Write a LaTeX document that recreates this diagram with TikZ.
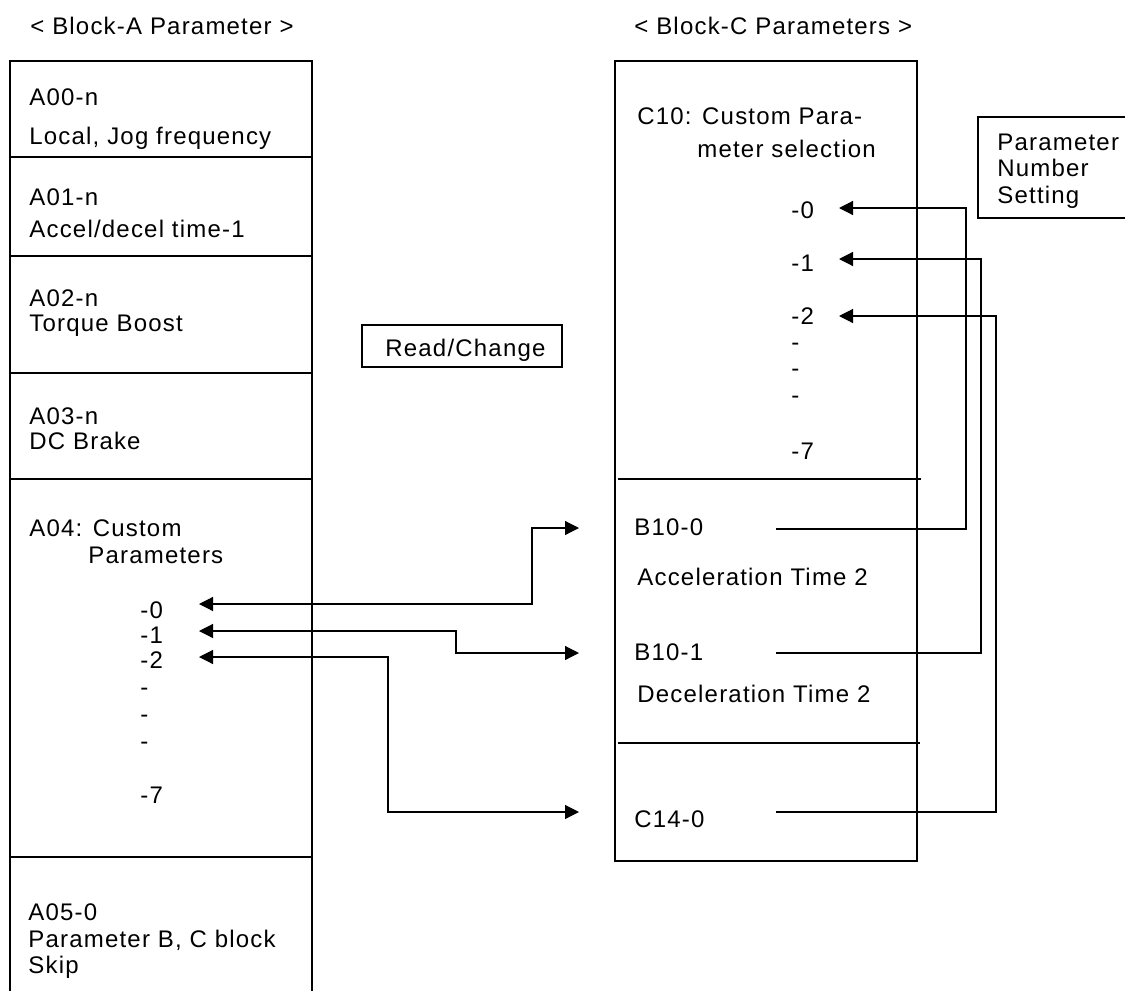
\documentclass[tikz,border=0pt]{standalone}
\usepackage{fontspec}
\setmainfont{Liberation Sans}[LetterSpace=5]
\usetikzlibrary{arrows.meta}

\begin{document}
\begin{tikzpicture}[
  % --- one unit = one pixel of the sheet, y grows downwards
  x=0.5pt, y=-0.5pt,
  every node/.style={font=\fontsize{12}{14}\selectfont},
  txt/.style={anchor=base west, inner sep=0pt},
  frame/.style={draw, line width=0.6pt},
  wire/.style={draw, line width=0.6pt},
  tip/.style={-{Triangle[length=7pt, width=7pt]}},
  tips/.style={{Triangle[length=7pt, width=7pt]}-{Triangle[length=7pt, width=7pt]}},
]
\useasboundingbox (0,0) rectangle (1125,991);

%========================
% Block-A (left column)
%========================
\node[txt] (ttlA) at (30,34.5) {< Block-A Parameter >};
\draw[frame] (10,1000) |- (312,61) -- (312,1000);
\foreach \yy in {157,256,373,479,857}
  \draw[frame] (9,\yy) -- (313,\yy);

\node[txt] (a00) at (29,105.5) {A00-n};
\node[txt] (a00t) at (29,144.5) {Local, Jog frequency};
\node[txt] (a01) at (29,205.5) {A01-n};
\node[txt] (a01t) at (29,237.5) {Accel/decel time-1};
\node[txt] (a02) at (29,306.5) {A02-n};
\node[txt] (a02t) at (29,331.5) {Torque Boost};
\node[txt] (a03) at (29,424.5) {A03-n};
\node[txt] (a03t) at (29,449.5) {DC Brake};
\node[txt] (a04) at (29,536.5) {A04: Custom};
\node[txt] (a04t) at (88,563.5) {Parameters};

% sub-numbers of A04
\node[txt] (a4n0) at (140,618.5) {-0};
\node[txt] (a4n1) at (140,643.5) {-1};
\node[txt] (a4n2) at (140,668.5) {-2};
\node[txt] (a4d1) at (140,695) {-};
\node[txt] (a4d2) at (140,722) {-};
\node[txt] (a4d3) at (140,749) {-};
\node[txt] (a4n7) at (140,803.5) {-7};

\node[txt] (a05) at (28,920.5) {A05-0};
\node[txt] (a05t) at (28,947.5) {Parameter B, C block};
\node[txt] (a05s) at (28,973.5) {Skip};

% middle label
\draw[frame] (362,325) rectangle (562,367);
\node[txt] (rdchg) at (385,356.5) {Read/Change};

%========================
% Block-C (right column)
%========================
\node[txt] (ttlC) at (634,34.5) {< Block-C Parameters >};
\draw[frame] (615,61) rectangle (917,861);
\draw[frame] (618,479) -- (921,479);
\draw[frame] (618,743) -- (920,743);

\node[txt] (c10) at (637,124.5) {C10: Custom Para-};
\node[txt] (c10t) at (697,157.5) {meter selection};
\node[txt] (cn0) at (791,218.5) {-0};
\node[txt] (cn1) at (791,271.5) {-1};
\node[txt] (cn2) at (791,324.5) {-2};
\node[txt] (cd1) at (791,350) {-};
\node[txt] (cd2) at (791,376) {-};
\node[txt] (cd3) at (791,403) {-};
\node[txt] (cn7) at (791,459.5) {-7};

\node[txt] (b100) at (634,535.5) {B10-0};
\node[txt] (b100t) at (637,585.5) {Acceleration Time 2};
\node[txt] (b101) at (634,660.5) {B10-1};
\node[txt] (b101t) at (637,702.5) {Deceleration Time 2};
\node[txt] (c140) at (634,827.5) {C14-0};

% setting label, cut by the sheet edge
\draw[frame] (1140,117) -| (978,218) -- (1140,218);
\node[txt] (pset1) at (997,150) {Parameter};
\node[txt] (pset2) at (997,176) {Number};
\node[txt] (pset3) at (997,203) {Setting};

%========================
% connectors
%========================
\coordinate (a0) at (199,604);
\coordinate (a1) at (199,631);
\coordinate (a2) at (199,657);
\coordinate (b0) at (579,528);
\coordinate (b1) at (579,653);
\coordinate (b2) at (579,812);
\coordinate (kA0) at (532,0);
\coordinate (kA1) at (456,0);
\coordinate (kA2) at (388,0);

\draw[wire,tips] (a0) -| (kA0 |- b0) -- (b0);
\draw[wire,tips] (a1) -| (kA1 |- b1) -- (b1);
\draw[wire,tips] (a2) -| (kA2 |- b2) -- (b2);

\coordinate (s0) at (776,529);
\coordinate (s1) at (776,653);
\coordinate (s2) at (776,812);
\coordinate (c0) at (839,208);
\coordinate (c1) at (839,259);
\coordinate (c2) at (839,316);
\coordinate (kC0) at (966,0);
\coordinate (kC1) at (981,0);
\coordinate (kC2) at (996,0);

\draw[wire,tip] (s0) -| (kC0 |- c0) -- (c0);
\draw[wire,tip] (s1) -| (kC1 |- c1) -- (c1);
\draw[wire,tip] (s2) -| (kC2 |- c2) -- (c2);

\end{tikzpicture}
\end{document}
